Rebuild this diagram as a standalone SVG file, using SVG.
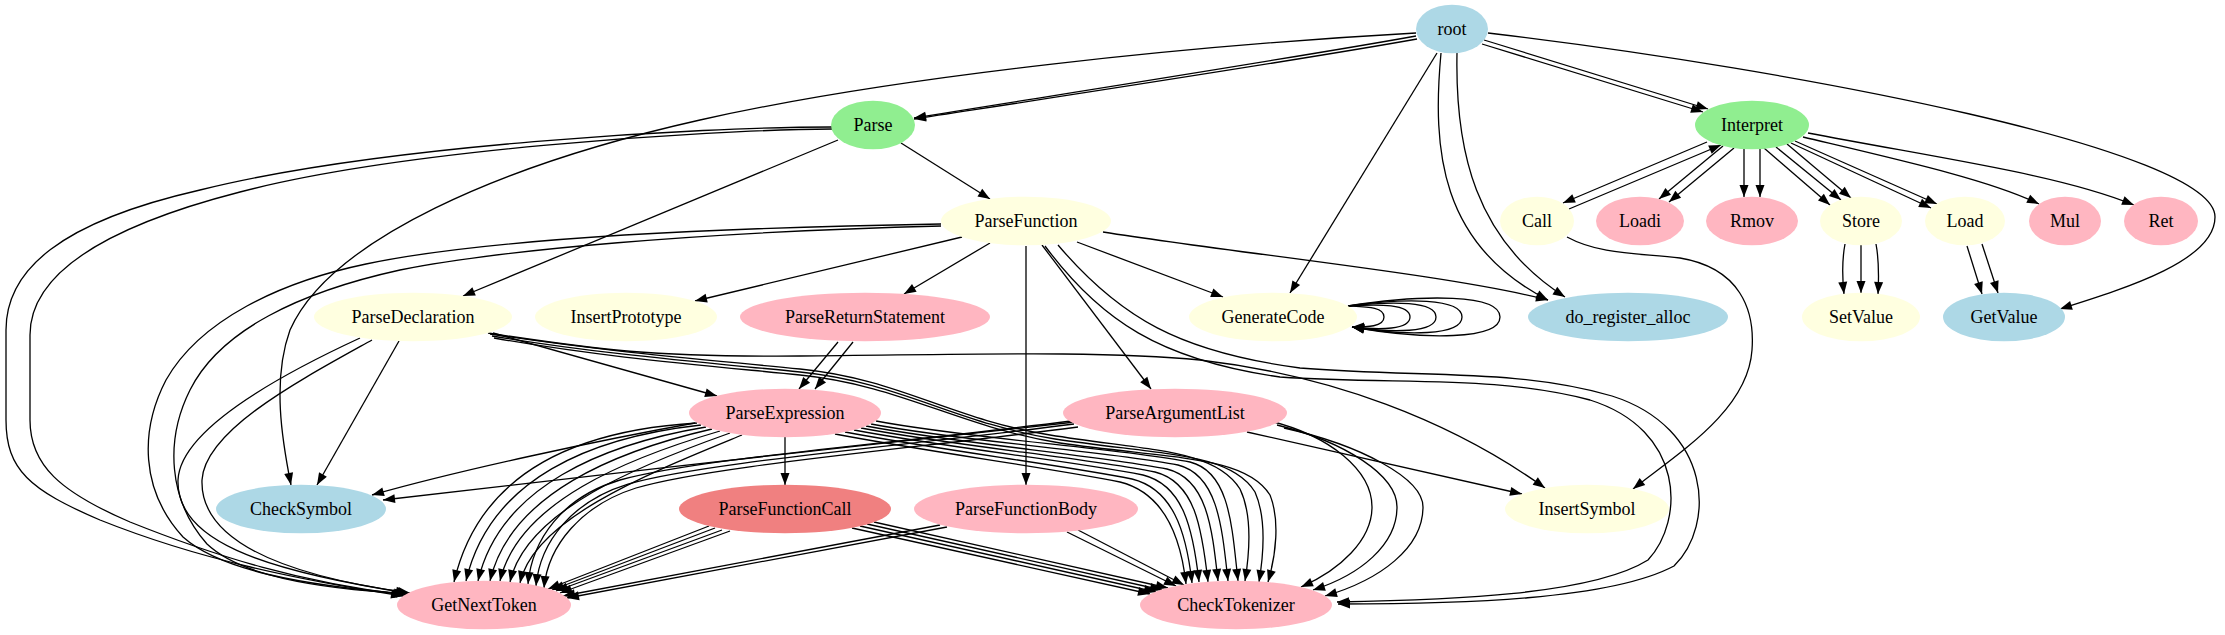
<svg xmlns="http://www.w3.org/2000/svg" width="2225" height="635" viewBox="0 0 2225 635">
<style>
.e path{fill:none;stroke:#000;stroke-width:1.3;marker-end:url(#a)}
.n ellipse{stroke:none}
.n text{font-family:"Liberation Serif","Times New Roman",serif;font-size:18px;text-anchor:middle;fill:#000}
.b{fill:#add8e6}.g{fill:#90ee90}.y{fill:#ffffe0}.p{fill:#ffb6c1}.c{fill:#f08080}
</style>
<defs>
<marker id="a" markerUnits="userSpaceOnUse" markerWidth="13" markerHeight="10" refX="12" refY="4.5" orient="auto" overflow="visible"><path d="M0,0 L12,4.5 L0,9 z" fill="#000"/></marker>
</defs>
<rect width="2225" height="635" fill="#fff"/>
<g id="edges" class="e">
<!-- root -->
<path d="M1416,36 C1300,57 1050,96 914,118"/>
<path d="M1417,39 C1300,60 1050,98 914,119"/>
<path d="M1416,33 C1200,45 900,75 700,120 C500,165 330,240 290,330 C272,380 282,440 291,485"/>
<path d="M1437,53 L1290,293"/>
<path d="M1441,53 C1432,150 1440,245 1548,300"/>
<path d="M1457,53 C1455,150 1475,240 1565,297"/>
<path d="M1484,40 L1708,109"/>
<path d="M1482,44 L1703,112"/>
<path d="M1488,33 C1800,70 2215,150 2215,217 C2215,260 2130,287 2060,309"/>
<!-- Interpret -->
<path d="M1707,142 L1563,203"/>
<path d="M1569,209 L1721,145"/>
<path d="M1723,146 L1659,199"/>
<path d="M1734,148 L1669,202"/>
<path d="M1744,149 L1744,197"/>
<path d="M1760,149 L1760,197"/>
<path d="M1764,148 L1830,205"/>
<path d="M1776,147 L1841,200"/>
<path d="M1787,144 L1851,198"/>
<path d="M1791,143 L1931,208"/>
<path d="M1795,141 L1937,204"/>
<path d="M1803,137 C1900,160 1990,180 2039,204"/>
<path d="M1808,133 C1950,160 2060,175 2134,205"/>
<!-- Call / Store / Load -->
<path d="M1567,237 C1600,255 1640,253 1680,258 C1740,268 1755,310 1752,350 C1748,410 1680,452 1633,489"/>
<path d="M1845,244 C1842,260 1842,275 1844,294"/>
<path d="M1861,245 L1861,293"/>
<path d="M1876,244 C1879,260 1879,275 1878,294"/>
<path d="M1967,246 L1982,294"/>
<path d="M1982,244 L1998,293"/>
<!-- Parse -->
<path d="M901,143 L990,199"/>
<path d="M838,140 L463,296"/>
<path d="M832,127 C700,127 380,145 200,190 C60,222 6,270 6,330 L6,420 C6,470 30,490 100,520 C200,560 300,580 403,596"/>
<path d="M832,129 C700,130 400,150 240,192 C100,228 30,275 30,335 L30,420 C30,465 60,492 130,522 C220,558 300,582 405,595"/>
<!-- ParseFunction -->
<path d="M941,224 C700,228 480,240 366,264 C280,282 200,320 166,380 C140,430 140,490 183,537 C220,570 300,585 406,594"/>
<path d="M941,226 C700,232 500,250 400,270 C300,292 220,330 190,390 C165,440 168,500 207,544 C240,575 310,588 408,594"/>
<path d="M962,237 L695,301"/>
<path d="M990,243 L904,294"/>
<path d="M1026,246 L1026,485"/>
<path d="M1042,245 L1151,389"/>
<path d="M1077,242 L1223,297"/>
<path d="M1103,232 C1250,255 1450,275 1548,300"/>
<path d="M1045,246 C1100,320 1160,360 1280,377 C1400,385 1495,375 1590,400 C1685,430 1685,520 1648,560 C1592,595 1450,600 1337,602"/>
<path d="M1058,245 C1120,318 1180,352 1300,368 C1420,378 1515,368 1612,396 C1712,428 1716,525 1674,566 C1610,600 1460,604 1338,604"/>
<!-- GenerateCode loops -->
<path d="M1348,306 C1367,307 1384,307 1384,317 C1384,327 1367,327 1352,327"/>
<path d="M1348,306 C1380,304 1410,304 1410,317 C1410,330 1380,330 1352,327"/>
<path d="M1348,306 C1393,301 1436,301 1436,317 C1436,333 1393,333 1352,327"/>
<path d="M1348,306 C1406,298 1462,298 1462,317 C1462,336 1406,336 1352,327"/>
<path d="M1348,306 C1425,294 1500,294 1500,317 C1500,340 1425,340 1352,327"/>
<!-- ParseDeclaration -->
<path d="M360,338 C280,375 180,430 178,480 C176,540 260,570 408,593"/>
<path d="M372,340 C300,380 205,430 202,480 C200,540 280,575 410,593"/>
<path d="M399,341 L317,485"/>
<path d="M493,333 L717,396"/>
<path d="M490,334 C600,351 700,359 800,369 C900,379 950,419 1050,435 C1150,451 1215,449 1240,489 C1252,514 1250,550 1245,581"/>
<path d="M492,336 C600,354 700,362 800,372 C900,382 955,423 1055,439 C1160,455 1230,452 1255,492 C1266,517 1264,552 1259,582"/>
<path d="M494,338 C600,357 700,365 800,375 C900,385 960,427 1060,443 C1170,459 1245,455 1270,495 C1280,520 1276,555 1268,582"/>
<path d="M488,333 C600,350 650,357 800,356 C950,355 1100,350 1200,360 C1330,375 1450,420 1545,488"/>
<!-- ParseReturnStatement -->
<path d="M838,342 L799,389"/>
<path d="M853,342 L815,389"/>
<!-- ParseExpression -->
<path d="M695,423 C600,440 460,470 372,495"/>
<path d="M785,437 L785,485"/>
<path d="M697,423 C580,430 480,470 454,582"/>
<path d="M701,425 C592,437 490,478 466,581"/>
<path d="M706,427 C604,444 500,486 478,581"/>
<path d="M712,429 C616,451 510,494 490,581"/>
<path d="M720,431 C628,458 518,502 500,581"/>
<path d="M730,433 C640,465 526,510 510,582"/>
<path d="M742,435 C652,472 534,518 520,583"/>
<path d="M876,421 C971,439 1120,448 1190,462 C1230,472 1232,527 1238,581"/>
<path d="M871,424 C966,442 1108,451 1178,465 C1218,475 1222,527 1228,581"/>
<path d="M866,426 C961,444 1097,455 1167,469 C1207,479 1212,527 1218,581"/>
<path d="M861,428 C956,446 1085,458 1155,472 C1195,482 1202,528 1208,582"/>
<path d="M854,430 C949,448 1073,461 1143,475 C1183,485 1193,528 1199,582"/>
<path d="M845,432 C940,450 1062,465 1132,479 C1172,489 1186,529 1192,583"/>
<path d="M835,434 C930,452 1050,468 1120,482 C1160,492 1180,530 1186,584"/>
<!-- ParseArgumentList -->
<path d="M1075,422 C900,440 600,475 383,500"/>
<path d="M1071,421 C900,443 700,458 620,480 C562,497 532,540 528,584"/>
<path d="M1074,424 C905,446 705,462 628,484 C572,501 540,542 536,586"/>
<path d="M1078,427 C910,449 710,466 636,488 C582,505 548,545 544,588"/>
<path d="M1247,432 L1522,494"/>
<path d="M1270,421 C1330,436 1372,470 1372,507 C1372,540 1340,570 1301,587"/>
<path d="M1277,425 C1345,442 1397,475 1397,507 C1397,545 1360,575 1313,590"/>
<path d="M1284,428 C1360,445 1423,478 1423,507 C1423,548 1380,580 1325,596"/>
<!-- ParseFunctionCall -->
<path d="M709,526 L548,589"/>
<path d="M715,528 L552,590"/>
<path d="M722,530 L556,591"/>
<path d="M730,531 L560,593"/>
<path d="M852,528 L1150,594"/>
<path d="M860,526 L1156,592"/>
<path d="M867,524 L1162,590"/>
<path d="M874,522 L1168,588"/>
<!-- ParseFunctionBody -->
<path d="M940,525 L563,596"/>
<path d="M947,527 L567,598"/>
<path d="M1067,532 L1176,586"/>
<path d="M1078,530 L1184,585"/>
</g>
<g id="nodes" class="n">
<g id="root"><ellipse class="b" cx="1452" cy="29" rx="36" ry="24.3"/><text x="1452" y="35">root</text></g>
<g id="Parse"><ellipse class="g" cx="873" cy="125" rx="42" ry="24.3"/><text x="873" y="131">Parse</text></g>
<g id="Interpret"><ellipse class="g" cx="1752" cy="125" rx="57" ry="24.3"/><text x="1752" y="131">Interpret</text></g>
<g id="ParseFunction"><ellipse class="y" cx="1026" cy="221" rx="85" ry="24.3"/><text x="1026" y="227">ParseFunction</text></g>
<g id="Call"><ellipse class="y" cx="1537" cy="221" rx="37" ry="24.3"/><text x="1537" y="227">Call</text></g>
<g id="Loadi"><ellipse class="p" cx="1640" cy="221" rx="44" ry="24.3"/><text x="1640" y="227">Loadi</text></g>
<g id="Rmov"><ellipse class="p" cx="1752" cy="221" rx="46" ry="24.3"/><text x="1752" y="227">Rmov</text></g>
<g id="Store"><ellipse class="y" cx="1861" cy="221" rx="41" ry="24.3"/><text x="1861" y="227">Store</text></g>
<g id="Load"><ellipse class="y" cx="1965" cy="221" rx="40" ry="24.3"/><text x="1965" y="227">Load</text></g>
<g id="Mul"><ellipse class="p" cx="2065" cy="221" rx="36" ry="24.3"/><text x="2065" y="227">Mul</text></g>
<g id="Ret"><ellipse class="p" cx="2161" cy="221" rx="37" ry="24.3"/><text x="2161" y="227">Ret</text></g>
<g id="ParseDeclaration"><ellipse class="y" cx="413" cy="317" rx="99" ry="24.3"/><text x="413" y="323">ParseDeclaration</text></g>
<g id="InsertPrototype"><ellipse class="y" cx="626" cy="317" rx="91" ry="24.3"/><text x="626" y="323">InsertPrototype</text></g>
<g id="ParseReturnStatement"><ellipse class="p" cx="865" cy="317" rx="125" ry="24.3"/><text x="865" y="323">ParseReturnStatement</text></g>
<g id="GenerateCode"><ellipse class="y" cx="1273" cy="317" rx="84" ry="24.3"/><text x="1273" y="323">GenerateCode</text></g>
<g id="do_register_alloc"><ellipse class="b" cx="1628" cy="317" rx="100" ry="24.3"/><text x="1628" y="323">do_register_alloc</text></g>
<g id="SetValue"><ellipse class="y" cx="1861" cy="317" rx="59" ry="24.3"/><text x="1861" y="323">SetValue</text></g>
<g id="GetValue"><ellipse class="b" cx="2004" cy="317" rx="61" ry="24.3"/><text x="2004" y="323">GetValue</text></g>
<g id="ParseExpression"><ellipse class="p" cx="785" cy="413" rx="96" ry="24.3"/><text x="785" y="419">ParseExpression</text></g>
<g id="ParseArgumentList"><ellipse class="p" cx="1175" cy="413" rx="112" ry="24.3"/><text x="1175" y="419">ParseArgumentList</text></g>
<g id="CheckSymbol"><ellipse class="b" cx="301" cy="509" rx="85" ry="24.3"/><text x="301" y="515">CheckSymbol</text></g>
<g id="ParseFunctionCall"><ellipse class="c" cx="785" cy="509" rx="106" ry="24.3"/><text x="785" y="515">ParseFunctionCall</text></g>
<g id="ParseFunctionBody"><ellipse class="p" cx="1026" cy="509" rx="112" ry="24.3"/><text x="1026" y="515">ParseFunctionBody</text></g>
<g id="InsertSymbol"><ellipse class="y" cx="1587" cy="509" rx="82" ry="24.3"/><text x="1587" y="515">InsertSymbol</text></g>
<g id="GetNextToken"><ellipse class="p" cx="484" cy="605" rx="87" ry="24.3"/><text x="484" y="611">GetNextToken</text></g>
<g id="CheckTokenizer"><ellipse class="p" cx="1236" cy="605" rx="96" ry="24.3"/><text x="1236" y="611">CheckTokenizer</text></g>
</g>
</svg>
